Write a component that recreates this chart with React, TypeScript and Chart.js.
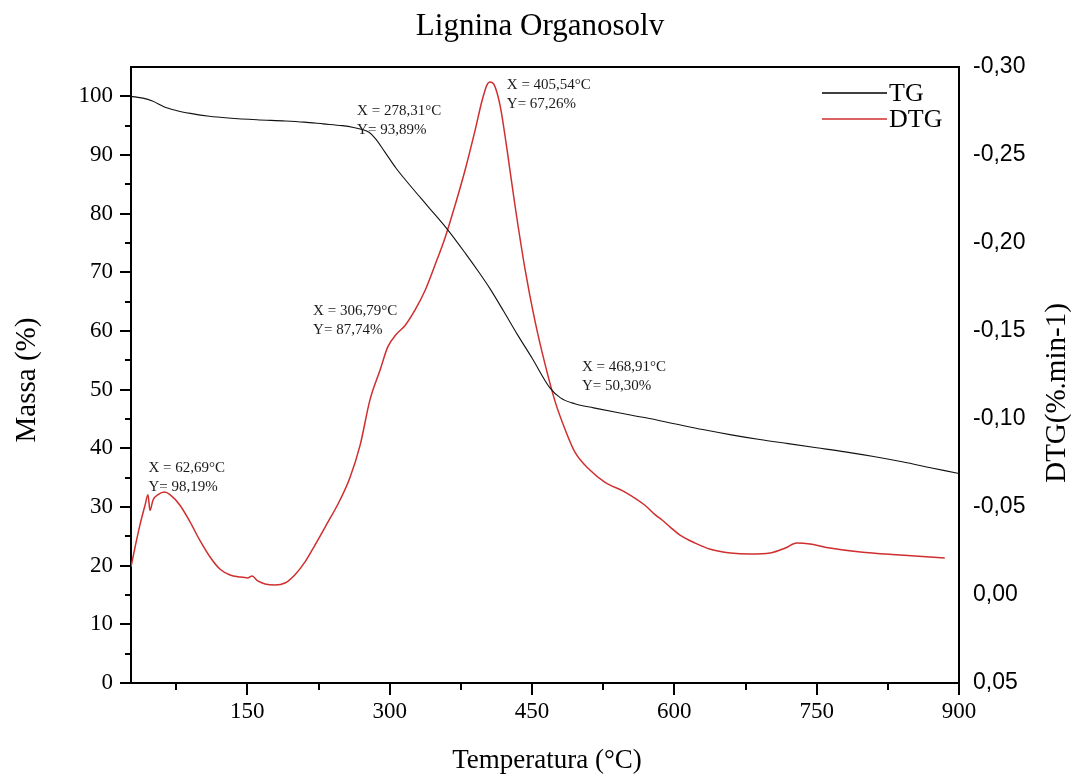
import React, { useEffect, useRef } from "react";
import { Chart, registerables } from "chart.js";

Chart.register(...registerables);

const chartTitle = "Lignina Organosolv";
const xTitle = "Temperatura (°C)";
const yTitle = "Massa (%)";
const y1Title = "DTG(%.min-1)";
const seriesNames = ["TG", "DTG"];

// TG: residual mass (%) vs temperature (°C)
const tgTemps = [
  27.4, 40, 50, 62.69, 75, 90, 110, 130, 160, 190, 210, 230, 250, 262, 270, 278.31,
  285, 295, 306.79, 320, 340, 360, 380, 395, 405.54, 420, 435, 450, 468.91, 480,
  495, 515, 540, 570, 600, 630, 660, 690, 720, 750, 780, 810, 840, 870, 900,
];
const tgMass = [
  100.0, 99.7, 99.2, 98.19, 97.6, 97.1, 96.6, 96.3, 96.0, 95.8, 95.6, 95.3, 95.0,
  94.7, 94.4, 93.89, 92.8, 90.5, 87.74, 85.1, 81.3, 77.5, 73.2, 69.8, 67.26, 63.4,
  59.3, 55.4, 50.3, 48.6, 47.6, 46.9, 46.1, 45.2, 44.2, 43.2, 42.3, 41.5, 40.8,
  40.1, 39.4, 38.6, 37.7, 36.7, 35.7,
];

// DTG: mass-loss rate vs temperature (°C)
const dtgTemps = [
  27.4, 31.6, 36.9, 42.2, 45.3, 47.4, 50.6, 55.9, 62.69, 68.5, 79, 89.6, 100,
  110.7, 121, 131.8, 142.3, 150.7, 155, 161, 168.7, 179, 189.7, 200, 210.8, 221.3,
  232, 247.7, 258, 268.8, 279.3, 290, 298, 306.79, 316, 326.8, 337.3, 347.8, 358.4,
  369, 379.5, 390, 397.4, 402.7, 405.54, 410, 416.4, 423.7, 432, 442.7, 453, 463.8,
  474.3, 484.9, 495.4, 511, 527, 548, 569, 580, 587, 595.6, 606, 622, 638, 659, 680,
  701, 717, 729, 743, 764, 796, 838, 885,
];
const dtgValues = [
  -0.016, -0.027, -0.04, -0.051, -0.057, -0.048, -0.054, -0.057, -0.0585, -0.057,
  -0.051, -0.0415, -0.031, -0.0216, -0.0148, -0.0114, -0.0102, -0.0097, -0.0108,
  -0.008, -0.0063, -0.0057, -0.0068, -0.0114, -0.0188, -0.0284, -0.0386, -0.054,
  -0.0665, -0.085, -0.111, -0.128, -0.141, -0.148, -0.153, -0.162, -0.173, -0.1875,
  -0.203, -0.2216, -0.2415, -0.264, -0.281, -0.29, -0.2915, -0.29, -0.278, -0.253,
  -0.2216, -0.185, -0.156, -0.131, -0.11, -0.094, -0.081, -0.071, -0.064, -0.0585,
  -0.051, -0.0455, -0.0426, -0.0386, -0.034, -0.0295, -0.026, -0.0239, -0.0233,
  -0.0239, -0.0267, -0.0295, -0.029, -0.0267, -0.0244, -0.0227, -0.021,
];

const xTicks = [150, 300, 450, 600, 750, 900];
const xMinorTicks = [75, 225, 375, 525, 675, 825];
const yTicks = [0, 10, 20, 30, 40, 50, 60, 70, 80, 90, 100];
const yMinorTicks = [5, 15, 25, 35, 45, 55, 65, 75, 85, 95];
const y1Ticks = [-0.3, -0.25, -0.2, -0.15, -0.1, -0.05, 0.0, 0.05];

// Point labels: temperature, mass read-out, and which curve they sit on
const noteTemps = [62.69, 306.79, 278.31, 405.54, 468.91];
const noteMass = [98.19, 87.74, 93.89, 67.26, 50.3];
const noteCurve = ["DTG", "DTG", "TG", "DTG", "TG"];
const noteOffsets = [
  [-16, -24],
  [-83, -23],
  [-12, -21],
  [17, 3],
  [32, -21],
];

const SERIF = '"Liberation Serif", "Times New Roman", serif';
const SANS = '"Liberation Sans", Arial, sans-serif';
const RED = "#cf2f2f";

const comma = (v: number) => v.toFixed(2).replace(".", ",");

function interp(xs: number[], ys: number[], t: number) {
  for (let i = 1; i < xs.length; i++) {
    if (t <= xs[i]) {
      const f = (t - xs[i - 1]) / (xs[i] - xs[i - 1]);
      return ys[i - 1] + f * (ys[i] - ys[i - 1]);
    }
  }
  return ys[ys.length - 1];
}

const decorations = {
  id: "decorations",
  afterDraw(chart: any) {
    const { ctx, chartArea: a, scales } = chart;
    const x = scales.x;
    const y = scales.y;
    const y1 = scales.y1;
    ctx.save();

    // top frame line
    ctx.strokeStyle = "#000";
    ctx.lineWidth = 2;
    ctx.beginPath();
    ctx.moveTo(a.left - 1, a.top);
    ctx.lineTo(a.right + 1, a.top);
    ctx.stroke();

    // minor ticks
    ctx.beginPath();
    xMinorTicks.forEach((v) => {
      const px = Math.round(x.getPixelForValue(v));
      ctx.moveTo(px, a.bottom);
      ctx.lineTo(px, a.bottom + 7);
    });
    yMinorTicks.forEach((v) => {
      const py = Math.round(y.getPixelForValue(v));
      ctx.moveTo(a.left, py);
      ctx.lineTo(a.left - 6, py);
    });
    ctx.stroke();

    ctx.fillStyle = "#000";
    // chart title
    ctx.font = `31px ${SERIF}`;
    ctx.textAlign = "center";
    ctx.textBaseline = "alphabetic";
    ctx.fillText(chartTitle, 540, 35);

    // x axis title
    ctx.font = `27px ${SERIF}`;
    ctx.fillText(xTitle, 547, 768);

    // rotated y titles
    ctx.font = `29px ${SERIF}`;
    ctx.save();
    ctx.translate(35, 380);
    ctx.rotate(-Math.PI / 2);
    ctx.fillText(yTitle, 0, 0);
    ctx.restore();
    ctx.save();
    ctx.translate(1065, 393);
    ctx.rotate(-Math.PI / 2);
    ctx.fillText(y1Title, 0, 0);
    ctx.restore();

    // legend
    const legendColors = ["#000", RED];
    const legendY = [93, 119];
    ctx.font = `26px ${SERIF}`;
    ctx.textAlign = "left";
    seriesNames.forEach((name, i) => {
      ctx.strokeStyle = legendColors[i];
      ctx.lineWidth = 1.3;
      ctx.beginPath();
      ctx.moveTo(822, legendY[i]);
      ctx.lineTo(887, legendY[i]);
      ctx.stroke();
      ctx.fillStyle = "#000";
      ctx.textBaseline = "middle";
      ctx.fillText(name, 889, legendY[i] + 1);
    });

    // point labels
    ctx.font = `15px ${SERIF}`;
    ctx.fillStyle = "#1a1a1a";
    ctx.textBaseline = "middle";
    noteTemps.forEach((t, i) => {
      const px = x.getPixelForValue(t);
      const py =
        noteCurve[i] === "TG"
          ? y.getPixelForValue(noteMass[i])
          : y1.getPixelForValue(interp(dtgTemps, dtgValues, t));
      const lx = px + noteOffsets[i][0];
      const ly = py + noteOffsets[i][1];
      ctx.fillText(`X = ${comma(t)}°C`, lx, ly);
      ctx.fillText(`Y= ${comma(noteMass[i])}%`, lx, ly + 19);
    });

    ctx.restore();
  },
};

export default function App() {
  const ref = useRef<HTMLCanvasElement | null>(null);

  useEffect(() => {
    if (!ref.current) return;
    const chart = new Chart(ref.current, {
      type: "line",
      data: {
        datasets: [
          {
            label: seriesNames[0],
            data: tgTemps.map((t, i) => ({ x: t, y: tgMass[i] })),
            yAxisID: "y",
            borderColor: "#111",
            borderWidth: 1.1,
            pointRadius: 0,
            cubicInterpolationMode: "monotone",
          },
          {
            label: seriesNames[1],
            data: dtgTemps.map((t, i) => ({ x: t, y: dtgValues[i] })),
            yAxisID: "y1",
            borderColor: RED,
            borderWidth: 1.5,
            pointRadius: 0,
            cubicInterpolationMode: "monotone",
          },
        ],
      },
      options: {
        responsive: false,
        animation: false,
        layout: { padding: { top: 67, left: 0, right: 0, bottom: 0 } },
        plugins: {
          legend: { display: false },
          title: { display: false },
          tooltip: { enabled: false },
        },
        scales: {
          x: {
            type: "linear",
            position: "bottom",
            min: 27.4,
            max: 900,
            afterBuildTicks: (s: any) => {
              s.ticks = xTicks.map((v) => ({ value: v }));
            },
            afterFit: (s: any) => {
              s.height = 92;
            },
            grid: {
              display: true,
              drawOnChartArea: false,
              drawTicks: true,
              tickLength: 12,
              color: "#000",
              lineWidth: 2,
            },
            border: { display: true, color: "#000", width: 2 },
            ticks: {
              color: "#000",
              font: { family: SERIF, size: 23 },
              padding: 3,
              maxRotation: 0,
              callback: (v: any) => String(v),
            },
          },
          y: {
            type: "linear",
            position: "left",
            min: 0,
            max: 105,
            afterBuildTicks: (s: any) => {
              s.ticks = yTicks.map((v) => ({ value: v }));
            },
            afterFit: (s: any) => {
              s.width = 131;
            },
            grid: {
              display: true,
              drawOnChartArea: false,
              drawTicks: true,
              tickLength: 11,
              color: "#000",
              lineWidth: 2,
            },
            border: { display: true, color: "#000", width: 2 },
            ticks: {
              color: "#000",
              font: { family: SERIF, size: 23 },
              padding: 7,
              callback: (v: any) => String(v),
            },
          },
          y1: {
            type: "linear",
            position: "right",
            min: -0.3,
            max: 0.05,
            reverse: true,
            afterBuildTicks: (s: any) => {
              s.ticks = y1Ticks.map((v) => ({ value: v }));
            },
            afterFit: (s: any) => {
              s.width = 112;
            },
            grid: { display: false, drawTicks: false },
            border: { display: true, color: "#000", width: 2 },
            ticks: {
              color: "#000",
              font: { family: SANS, size: 23 },
              padding: 14,
              callback: (v: any) => comma(Number(v)),
            },
          },
        },
      },
      plugins: [decorations],
    });
    return () => chart.destroy();
  }, []);

  return (
    <div style={{ position: "fixed", left: 0, top: 0, width: 1071, height: 775, background: "#fff" }}>
      <canvas ref={ref} width={1071} height={775} />
    </div>
  );
}
